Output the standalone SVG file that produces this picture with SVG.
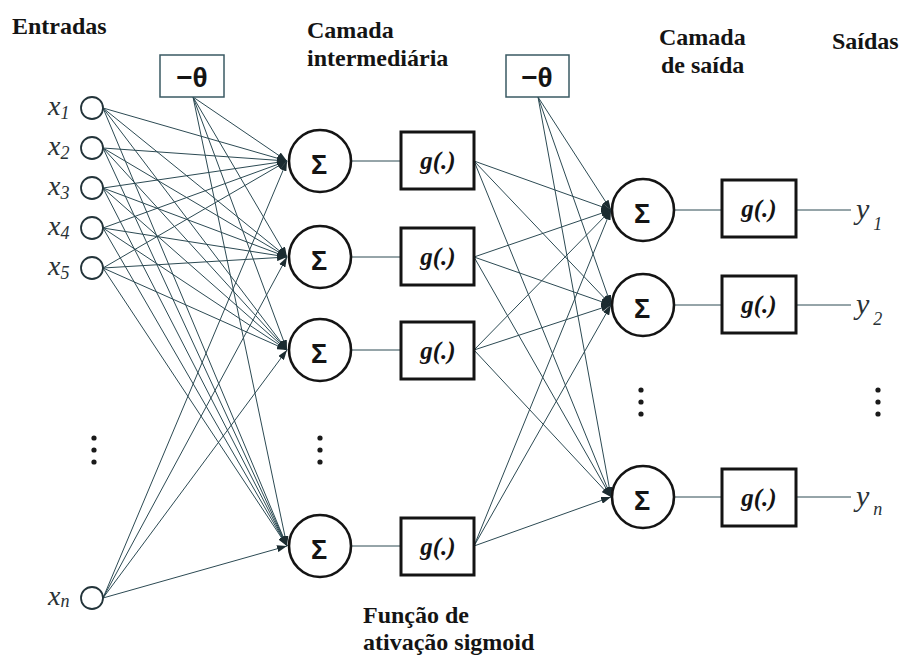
<svg xmlns="http://www.w3.org/2000/svg" width="904" height="657" viewBox="0 0 904 657">
  <style>
    .title { font-family: "Liberation Serif", "DejaVu Serif", serif; font-weight: bold; font-size: 24px; fill: #141414; }
    .var { font-family: "Liberation Serif", "DejaVu Serif", serif; font-style: italic; fill: #2a3236; }
    .sum { fill: #fff; stroke: #141414; stroke-width: 2.6; }
    .sig { font-family: "Liberation Sans", "DejaVu Sans", sans-serif; font-weight: bold; font-size: 27px; fill: #141414; text-anchor: middle; }
    .gbox { fill: #fff; stroke: #141414; stroke-width: 3; }
    .gtxt { font-family: "Liberation Serif", "DejaVu Serif", serif; font-weight: bold; font-style: italic; font-size: 25px; fill: #141414; text-anchor: middle; }
    .inp { fill: #fff; stroke: #23343a; stroke-width: 1.8; }
    .bias { fill: #fff; stroke: #3a5a63; stroke-width: 1.5; }
    .btxt { font-family: "Liberation Sans", "DejaVu Sans", sans-serif; font-weight: bold; font-size: 28px; fill: #141414; text-anchor: middle; }
    .conn line { stroke: #2c4a53; stroke-width: 1; }
    .arr line { marker-end: url(#head); }
    .dot { fill: #1a1a1a; }
  </style>
  <defs>
    <marker id="head" markerUnits="userSpaceOnUse" markerWidth="10" markerHeight="7" refX="10" refY="3.5" orient="auto">
      <path d="M0,0 L10,3.5 L0,7 z" fill="#1c2c31"/>
    </marker>
  </defs>
  <rect width="904" height="657" fill="#fff"/>

  <!-- column headings -->
  <text class="title" x="12" y="34">Entradas</text>
  <text class="title" x="307" y="38">Camada</text>
  <text class="title" x="307" y="66">intermediária</text>
  <text class="title" x="659" y="45">Camada</text>
  <text class="title" x="661" y="73">de saída</text>
  <text class="title" x="832" y="49">Saídas</text>
  <text class="title" x="363" y="623">Função de</text>
  <text class="title" x="363" y="650">ativação sigmoid</text>

  <!-- connectors -->
  <g id="connectors" class="conn">
    <g class="arr">
      <!-- inputs to hidden layer -->
      <line x1="103" y1="108" x2="287" y2="161"/>
      <line x1="103" y1="108" x2="287" y2="257"/>
      <line x1="103" y1="108" x2="287" y2="350"/>
      <line x1="103" y1="108" x2="287" y2="546"/>
      <line x1="103" y1="148" x2="287" y2="161"/>
      <line x1="103" y1="148" x2="287" y2="257"/>
      <line x1="103" y1="148" x2="287" y2="350"/>
      <line x1="103" y1="148" x2="287" y2="546"/>
      <line x1="103" y1="188" x2="287" y2="161"/>
      <line x1="103" y1="188" x2="287" y2="257"/>
      <line x1="103" y1="188" x2="287" y2="350"/>
      <line x1="103" y1="188" x2="287" y2="546"/>
      <line x1="103" y1="228" x2="287" y2="161"/>
      <line x1="103" y1="228" x2="287" y2="257"/>
      <line x1="103" y1="228" x2="287" y2="350"/>
      <line x1="103" y1="228" x2="287" y2="546"/>
      <line x1="103" y1="268" x2="287" y2="161"/>
      <line x1="103" y1="268" x2="287" y2="257"/>
      <line x1="103" y1="268" x2="287" y2="350"/>
      <line x1="103" y1="268" x2="287" y2="546"/>
      <line x1="103" y1="598" x2="287" y2="161"/>
      <line x1="103" y1="598" x2="287" y2="257"/>
      <line x1="103" y1="598" x2="287" y2="350"/>
      <line x1="103" y1="598" x2="287" y2="546"/>
      <line x1="193" y1="97" x2="287" y2="161"/>
      <line x1="193" y1="97" x2="287" y2="257"/>
      <line x1="193" y1="97" x2="287" y2="350"/>
      <line x1="193" y1="97" x2="287" y2="546"/>
      <!-- hidden activations to output layer -->
      <line x1="474" y1="161" x2="611" y2="210"/>
      <line x1="474" y1="161" x2="611" y2="305"/>
      <line x1="474" y1="161" x2="611" y2="497"/>
      <line x1="474" y1="257" x2="611" y2="210"/>
      <line x1="474" y1="257" x2="611" y2="305"/>
      <line x1="474" y1="257" x2="611" y2="497"/>
      <line x1="474" y1="350" x2="611" y2="210"/>
      <line x1="474" y1="350" x2="611" y2="305"/>
      <line x1="474" y1="350" x2="611" y2="497"/>
      <line x1="474" y1="546" x2="611" y2="210"/>
      <line x1="474" y1="546" x2="611" y2="305"/>
      <line x1="474" y1="546" x2="611" y2="497"/>
      <line x1="538" y1="97" x2="611" y2="210"/>
      <line x1="538" y1="97" x2="611" y2="305"/>
      <line x1="538" y1="97" x2="611" y2="497"/>
    </g>
    <!-- summation to activation links -->
    <line x1="352" y1="161" x2="401" y2="161"/>
    <line x1="352" y1="257" x2="401" y2="257"/>
    <line x1="352" y1="350" x2="401" y2="350"/>
    <line x1="352" y1="546" x2="401" y2="546"/>
    <line x1="675" y1="210" x2="722" y2="210"/>
    <line x1="675" y1="305" x2="722" y2="305"/>
    <line x1="675" y1="497" x2="722" y2="497"/>
    <!-- outputs -->
    <line x1="796" y1="210" x2="851" y2="210"/>
    <line x1="796" y1="305" x2="851" y2="305"/>
    <line x1="796" y1="497" x2="851" y2="497"/>
  </g>

  <!-- input nodes -->
  <g id="x1"><circle class="inp" cx="92" cy="108" r="11"/><text class="var" x="48" y="115" font-size="28">x<tspan font-size="18" dy="4">1</tspan></text></g>
  <g id="x2"><circle class="inp" cx="92" cy="148" r="11"/><text class="var" x="48" y="155" font-size="28">x<tspan font-size="18" dy="4">2</tspan></text></g>
  <g id="x3"><circle class="inp" cx="92" cy="188" r="11"/><text class="var" x="48" y="195" font-size="28">x<tspan font-size="18" dy="4">3</tspan></text></g>
  <g id="x4"><circle class="inp" cx="92" cy="228" r="11"/><text class="var" x="48" y="235" font-size="28">x<tspan font-size="18" dy="4">4</tspan></text></g>
  <g id="x5"><circle class="inp" cx="92" cy="268" r="11"/><text class="var" x="48" y="275" font-size="28">x<tspan font-size="18" dy="4">5</tspan></text></g>
  <g id="xn"><circle class="inp" cx="92" cy="598" r="11"/><text class="var" x="48" y="605" font-size="28">x<tspan font-size="18" dy="2">n</tspan></text></g>
  <g id="input-dots"><circle class="dot" cx="94" cy="438" r="2.6"/><circle class="dot" cx="94" cy="450" r="2.6"/><circle class="dot" cx="94" cy="462" r="2.6"/></g>

  <!-- bias boxes -->
  <g id="theta1"><rect class="bias" x="160" y="55" width="64" height="42"/><text class="btxt" x="192" y="87">−θ</text></g>
  <g id="theta2"><rect class="bias" x="506" y="55" width="63" height="42"/><text class="btxt" x="537" y="87">−θ</text></g>

  <!-- hidden layer -->
  <g id="h1"><circle class="sum" cx="320" cy="161" r="31"/><text class="sig" x="319" y="174">Σ</text></g>
  <g id="h2"><circle class="sum" cx="320" cy="257" r="31"/><text class="sig" x="319" y="270">Σ</text></g>
  <g id="h3"><circle class="sum" cx="320" cy="350" r="31"/><text class="sig" x="319" y="363">Σ</text></g>
  <g id="h4"><circle class="sum" cx="320" cy="546" r="31"/><text class="sig" x="319" y="559">Σ</text></g>
  <g id="hidden-dots"><circle class="dot" cx="320" cy="438" r="2.6"/><circle class="dot" cx="320" cy="450" r="2.6"/><circle class="dot" cx="320" cy="462" r="2.6"/></g>

  <g id="g1"><rect class="gbox" x="401" y="132" width="73" height="57"/><text class="gtxt" x="438" y="169">g(.)</text></g>
  <g id="g2"><rect class="gbox" x="401" y="228" width="73" height="57"/><text class="gtxt" x="438" y="265">g(.)</text></g>
  <g id="g3"><rect class="gbox" x="401" y="322" width="73" height="57"/><text class="gtxt" x="438" y="359">g(.)</text></g>
  <g id="g4"><rect class="gbox" x="401" y="518" width="73" height="57"/><text class="gtxt" x="438" y="555">g(.)</text></g>

  <!-- output layer -->
  <g id="o1"><circle class="sum" cx="643" cy="210" r="31"/><text class="sig" x="642" y="223">Σ</text></g>
  <g id="o2"><circle class="sum" cx="643" cy="305" r="31"/><text class="sig" x="642" y="318">Σ</text></g>
  <g id="o3"><circle class="sum" cx="643" cy="497" r="31"/><text class="sig" x="642" y="510">Σ</text></g>
  <g id="output-dots"><circle class="dot" cx="641" cy="390" r="2.6"/><circle class="dot" cx="641" cy="402" r="2.6"/><circle class="dot" cx="641" cy="414" r="2.6"/></g>

  <g id="og1"><rect class="gbox" x="722" y="180" width="74" height="57"/><text class="gtxt" x="759" y="217">g(.)</text></g>
  <g id="og2"><rect class="gbox" x="722" y="276" width="74" height="57"/><text class="gtxt" x="759" y="313">g(.)</text></g>
  <g id="og3"><rect class="gbox" x="722" y="469" width="74" height="57"/><text class="gtxt" x="759" y="506">g(.)</text></g>

  <!-- output labels -->
  <g id="y1"><text class="var" x="856" y="219" font-size="30">y<tspan font-size="18" dx="4" dy="11">1</tspan></text></g>
  <g id="y2"><text class="var" x="856" y="314" font-size="30">y<tspan font-size="18" dx="4" dy="11">2</tspan></text></g>
  <g id="yn"><text class="var" x="856" y="506" font-size="30">y<tspan font-size="18" dx="4" dy="9">n</tspan></text></g>
  <g id="output-label-dots"><circle class="dot" cx="878" cy="390" r="2.6"/><circle class="dot" cx="878" cy="402" r="2.6"/><circle class="dot" cx="878" cy="414" r="2.6"/></g>
</svg>
